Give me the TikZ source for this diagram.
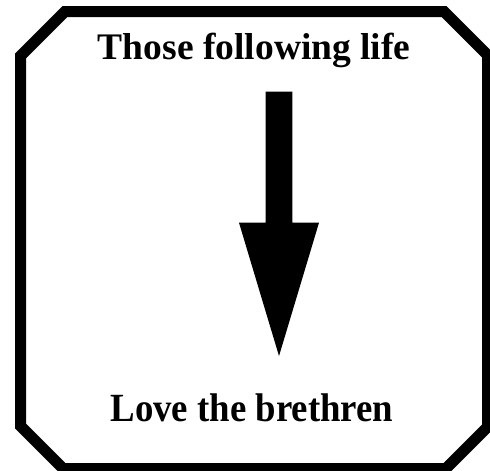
\documentclass[tikz,border=0pt]{standalone}
\usepackage{fontspec}
\setmainfont{Liberation Serif}
\usetikzlibrary{calc}
\begin{document}
\begin{tikzpicture}[x=1pt,y=-1pt,
  frame/.style={draw=black,line width=11pt,line join=miter},
  lbl/.style={anchor=base,inner sep=0pt,font=\bfseries},
  bigarrow/.style={fill=black,draw=none}]
\useasboundingbox (0,0) rectangle (490,471);
\clip (0,0) rectangle (490,471);
\draw[frame] (65,11.5) -- (444,11.5) -- (487.5,55) -- (487.5,427) -- (446,468.5)
  -- (63,468.5) -- (20.5,426) -- (20.5,56) -- cycle;
\node[lbl,font=\bfseries\fontsize{37.5}{40}\selectfont] (top) at (254.2,59.5) {Those following life};
\node[lbl,xscale=0.92,font=\bfseries\fontsize{40}{44}\selectfont] (bot) at (252,421) {Love the brethren};
\coordinate (ashaft) at (279,91.7);
\coordinate (atip) at (279,356);
\fill[bigarrow] ($(ashaft)+(-13.3,0)$) -- ($(ashaft)+(13.3,0)$) -- (292.3,222.7) -- (319,222.7)
  -- (atip) -- (239,222.7) -- (265.7,222.7) -- cycle;
\end{tikzpicture}
\end{document}
